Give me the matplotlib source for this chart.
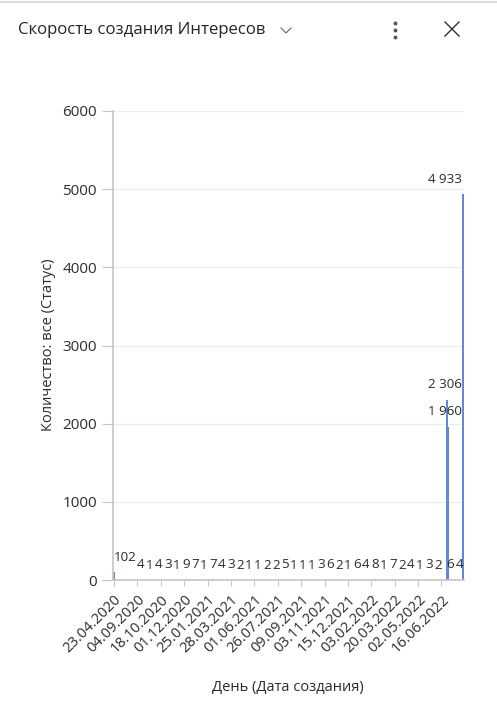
import matplotlib
matplotlib.use("Agg")
import matplotlib.pyplot as plt
from matplotlib.lines import Line2D

plt.rcParams['font.family'] = ['Open Sans', 'DejaVu Sans']

title = "Скорость создания Интересов"
x_title = "День (Дата создания)"
y_title = "Количество: все (Статус)"

# tick labels shown every 13th day on the category axis
tick_dates = ["23.04.2020", "04.09.2020", "18.10.2020", "01.12.2020", "25.01.2021",
              "28.03.2021", "01.06.2021", "26.07.2021", "09.09.2021", "03.11.2021",
              "15.12.2021", "03.02.2022", "20.03.2022", "02.05.2022", "16.06.2022"]
days_per_tick = 13

# interests created per day (one entry per day with data)
counts = [
    102, 3, 1, 2, 1, 1, 4, 2, 1, 1,
    2, 1, 3, 2, 1, 4, 2, 1, 1, 3,
    1, 2, 1, 1, 2, 4, 1, 2, 1, 1,
    3, 2, 1, 1, 2, 1, 1, 2, 1, 3,
    9, 5, 3, 2, 1, 7, 2, 1, 1, 2,
    1, 1, 2, 3, 1, 7, 4, 2, 1, 1,
    4, 2, 1, 1, 3, 3, 1, 2, 1, 1,
    2, 1, 1, 2, 1, 1, 2, 1, 1, 1,
    1, 1, 2, 1, 1, 2, 1, 1, 3, 1,
    2, 1, 1, 2, 1, 5, 2, 1, 1, 2,
    1, 1, 2, 1, 1, 1, 2, 1, 1, 1,
    1, 2, 1, 1, 2, 3, 1, 2, 4, 1,
    6, 3, 1, 2, 1, 2, 1, 1, 2, 1,
    1, 2, 1, 3, 1, 6, 2, 4, 1, 1,
    4, 2, 1, 3, 2, 8, 3, 2, 1, 1,
    1, 2, 1, 1, 3, 7, 2, 1, 4, 1,
    2, 1, 1, 3, 2, 4, 1, 2, 1, 1,
    1, 2, 3, 1, 1, 3, 2, 1, 1, 2,
    2, 1, 3, 2, 1, 2306, 1960, 6, 3, 2,
    1, 2, 4, 3, 4933,
]

bar_color = "#6389D6"
axis_gray = "#C6C6C6"
text_col = "#2B2B2B"

W, H = 497, 708
fig = plt.figure(figsize=(W / 100, H / 100), dpi=100)
ax = fig.add_axes([113 / W, 1 - 580 / H, 351 / W, 469 / H])

x = list(range(len(counts)))
ax.bar(x, counts, width=0.75, color=bar_color, linewidth=0)
ax.set_xlim(-0.5, len(counts) - 0.5)
ax.set_ylim(0, 6000)
ax.set_yticks(range(0, 7000, 1000))
ax.set_xticks(x[::days_per_tick])
ax.set_xticklabels(tick_dates, rotation=45, ha='right', rotation_mode='anchor',
                   fontsize=10.5, color=text_col)
ax.tick_params(axis='x', length=4.5, color=axis_gray, pad=4)
ax.tick_params(axis='y', length=8, color=axis_gray, pad=3.5, labelsize=11,
               labelcolor=text_col)
ax.yaxis.grid(True, color='#EDEDED', lw=1)
ax.set_axisbelow(True)
for s in ['top', 'right']:
    ax.spines[s].set_visible(False)
for s in ['left', 'bottom']:
    ax.spines[s].set_color(axis_gray)
    ax.spines[s].set_linewidth(1.2)

# data labels, dropping those that would overlap an already placed one
digit_px = 7.3
placed = []
left_px = ax.transAxes.transform((0, 0))[0]
right_px = ax.transAxes.transform((1, 0))[0]
for i, v in enumerate(counts):
    txt = f"{v:,}".replace(",", " ")
    w = len(txt) * digit_px
    cx, top = ax.transData.transform((i, v))
    cx = min(max(cx, left_px + 1 + w / 2), right_px - 1 - w / 2)
    box = (cx - w / 2, top + 8, cx + w / 2, top + 20)
    clash = any(box[0] < b[2] + 0.2 and b[0] < box[2] + 0.2 and
                box[1] < b[3] and b[1] < box[3] for b in placed)
    if clash:
        continue
    placed.append(box)
    xd = ax.transData.inverted().transform((cx, top))[0]
    ax.annotate(txt, (xd, v), xytext=(0, 6), textcoords='offset points',
                ha='center', va='bottom', fontsize=9.6, color=text_col,
                annotation_clip=False)

fig.text(48.5 / W, 1 - 345 / H, y_title, rotation=90, ha='center', va='center',
         fontsize=10.5, color=text_col)
fig.text(288 / W, 1 - 688 / H, x_title, ha='center', va='center',
         fontsize=10.5, color=text_col)

# header
fig.text(18 / W, 1 - 30 / H, title, ha='left', va='center', fontsize=12.1,
         color='#252525')
fig.add_artist(Line2D([0, 1], [1 - 1.5 / H] * 2, transform=fig.transFigure,
                      color='#DDDDDD', lw=1.5))
fig.add_artist(Line2D([281 / W, 286 / W, 291 / W], [1 - 28 / H, 1 - 33 / H, 1 - 28 / H],
                      transform=fig.transFigure, color='#666666', lw=0.8))
fig.add_artist(Line2D([395 / W] * 3, [1 - 23 / H, 1 - 30 / H, 1 - 37 / H],
                      transform=fig.transFigure, color='#555555', ls='none',
                      marker='o', ms=1.8))
fig.add_artist(Line2D([445 / W, 459 / W], [1 - 22 / H, 1 - 36 / H],
                      transform=fig.transFigure, color='#333333', lw=1.0))
fig.add_artist(Line2D([445 / W, 459 / W], [1 - 36 / H, 1 - 22 / H],
                      transform=fig.transFigure, color='#333333', lw=1.0))

fig.savefig("out.png", dpi=100)
